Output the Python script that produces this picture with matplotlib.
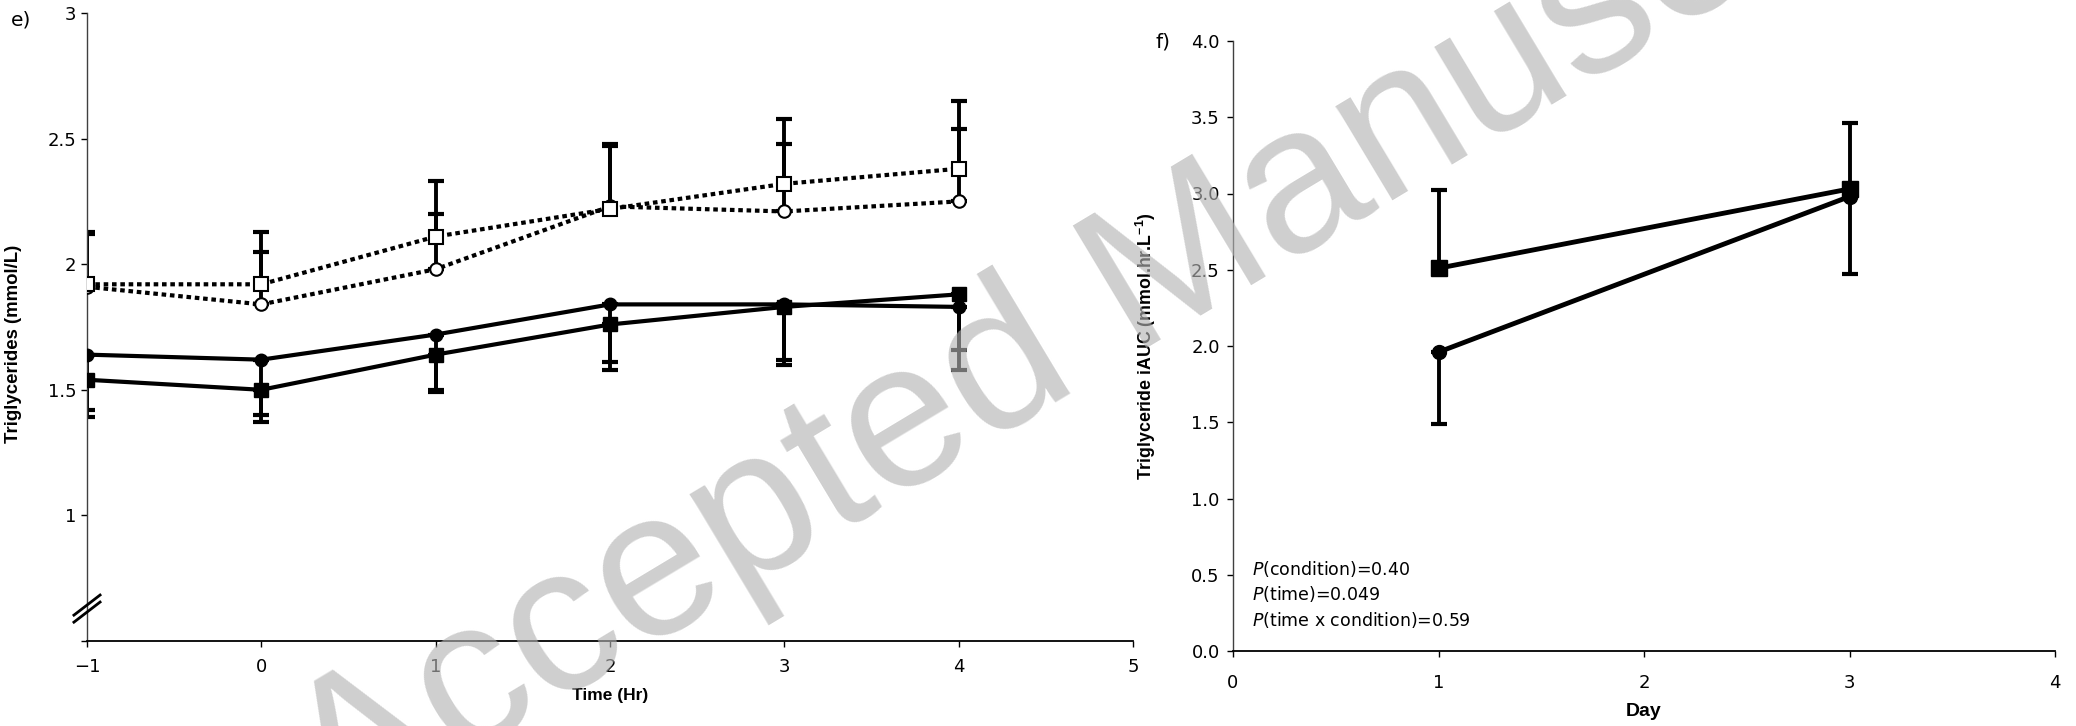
import matplotlib.pyplot as plt
import numpy as np

plt.rcParams['font.family'] = ['DejaVu Sans']
plt.rcParams['mathtext.fontset'] = 'dejavusans'

# panel e) - triglycerides over time
time_hr = [-1, 0, 1, 2, 3, 4]
open_sq = [1.92, 1.92, 2.11, 2.22, 2.32, 2.38]
open_sq_err = [0.21, 0.21, 0.22, 0.26, 0.26, 0.27]
open_ci = [1.91, 1.84, 1.98, 2.23, 2.21, 2.25]
open_ci_err = [0.21, 0.21, 0.22, 0.24, 0.27, 0.29]
fill_ci = [1.64, 1.62, 1.72, 1.84, 1.84, 1.83]
fill_ci_err = [0.22, 0.22, 0.22, 0.23, 0.22, 0.17]
fill_sq = [1.54, 1.50, 1.64, 1.76, 1.83, 1.88]
fill_sq_err = [0.15, 0.13, 0.15, 0.18, 0.23, 0.30]

# panel f) - iAUC per day
day = [1, 3]
iauc_sq = [2.51, 3.03]
iauc_sq_err = [0.51, 0.43]
iauc_ci = [1.96, 2.98]
iauc_ci_err = [0.47, 0.51]

p_lines = ['$\\it{P}$(condition)=0.40', '$\\it{P}$(time)=0.049', '$\\it{P}$(time x condition)=0.59']

lab_font = ['Liberation Sans', 'DejaVu Sans']

fig = plt.figure(figsize=(20.76, 7.26), dpi=100)
ax1 = fig.add_axes([87/2076, 1-641/726, 1046/2076, 628/726])
ax2 = fig.add_axes([1233/2076, 1-651/726, 822/2076, 610/726])

lw = 3.0
ms_sq = 10
ms_ci = 9
dots = (0, (1.1, 0.9))

def err_up(ax, x, y, e):
    ax.errorbar(x, y, yerr=[np.zeros(len(e)), e], fmt='none', ecolor='black',
                elinewidth=2.8, capsize=6, capthick=3, zorder=2)

def err_down(ax, x, y, e):
    ax.errorbar(x, y, yerr=[e, np.zeros(len(e))], fmt='none', ecolor='black',
                elinewidth=2.8, capsize=6, capthick=3, zorder=2)

# panel e
err_up(ax1, time_hr, open_sq, open_sq_err)
err_up(ax1, time_hr, open_ci, open_ci_err)
err_down(ax1, time_hr, fill_ci, fill_ci_err)
err_down(ax1, time_hr, fill_sq, fill_sq_err)

ax1.plot(time_hr, open_ci, color='black', linewidth=lw, linestyle=dots, dash_capstyle='butt',
         marker='o', markersize=ms_ci, markerfacecolor='white', markeredgecolor='black',
         markeredgewidth=1.5, zorder=3)
ax1.plot(time_hr, open_sq, color='black', linewidth=lw, linestyle=dots, dash_capstyle='butt',
         marker='s', markersize=ms_sq, markerfacecolor='white', markeredgecolor='black',
         markeredgewidth=1.5, zorder=3)
ax1.plot(time_hr, fill_ci, color='black', linewidth=lw, marker='o', markersize=ms_ci, zorder=3)
ax1.plot(time_hr, fill_sq, color='black', linewidth=lw, marker='s', markersize=ms_sq, zorder=3)

ax1.set_xlim(-1, 5)
ax1.set_ylim(0.5, 3)
ax1.set_xticks(range(-1, 6))
ax1.set_yticks([0.5, 1, 1.5, 2, 2.5, 3])
ax1.set_yticklabels(['', '1', '1.5', '2', '2.5', '3'])
ax1.set_xlabel('Time (Hr)', fontsize=12.5, fontweight='bold', family=lab_font)
ax1.set_ylabel('Triglycerides (mmol/L)', fontsize=13.4, fontweight='bold', family=lab_font)
ax1.xaxis.set_label_coords(0.5, -0.075)
ax1.yaxis.set_label_coords(-0.062, 0.473)

# axis break marks
for off in [0, 0.028]:
    ax1.plot([-1.075, -0.925], [0.575 + off, 0.655 + off], color='black',
             linewidth=2, clip_on=False, zorder=4)

# panel f
err_up(ax2, day, iauc_sq, iauc_sq_err)
err_down(ax2, day, iauc_ci, iauc_ci_err)
ax2.plot(day, iauc_ci, color='black', linewidth=lw + 0.5, marker='o', markersize=ms_ci + 1, zorder=3)
ax2.plot(day, iauc_sq, color='black', linewidth=lw + 0.5, marker='s', markersize=ms_sq + 1, zorder=3)

ax2.set_xlim(0, 4)
ax2.set_ylim(0, 4)
ax2.set_xticks(range(0, 5))
ax2.set_yticks(np.arange(0, 4.01, 0.5))
ax2.set_yticklabels([f'{v:.1f}' for v in np.arange(0, 4.01, 0.5)])
ax2.set_xlabel('Day', fontsize=14, fontweight='bold', family=lab_font)
ax2.set_ylabel('Triglyceride iAUC (mmol.hr.L$^{\\mathregular{-1}}$)', fontsize=12.8,
               fontweight='bold', family=lab_font)
ax2.xaxis.set_label_coords(0.5, -0.085)
ax2.yaxis.set_label_coords(-0.091, 0.5)

for txt, yy in zip(p_lines, [0.134, 0.093, 0.051]):
    ax2.text(0.023, yy, txt, transform=ax2.transAxes, fontsize=12.5, va='center', ha='left')

for ax in [ax1, ax2]:
    for s in ['top', 'right']:
        ax.spines[s].set_visible(False)
    ax.spines['left'].set_color('#404040')
    ax.spines['bottom'].set_color('black')
    ax.spines['left'].set_linewidth(1.0)
    ax.spines['bottom'].set_linewidth(1.3)
    ax.tick_params(axis='both', labelsize=13, length=4, width=1, direction='out')
    ax.set_facecolor('none')

ax1.tick_params(axis='x', pad=8)
ax2.tick_params(axis='x', pad=12.5)
ax2.tick_params(axis='y', pad=5.5)

fig.text(11/2076, 1-20/726, 'e)', fontsize=14.5, va='center', ha='left')
fig.text(1155/2076, 1-42/726, 'f)', fontsize=14.5, va='center', ha='left')

# watermark
fig.text(338/2076, 1-834/726, 'Accepted Manuscript', fontsize=150,
         family=['Liberation Sans', 'DejaVu Sans'], color=(0.7, 0.7, 0.7), alpha=0.63,
         rotation=31, rotation_mode='anchor', ha='left', va='baseline', zorder=10)

fig.savefig('out.png', dpi=100, facecolor='white')
